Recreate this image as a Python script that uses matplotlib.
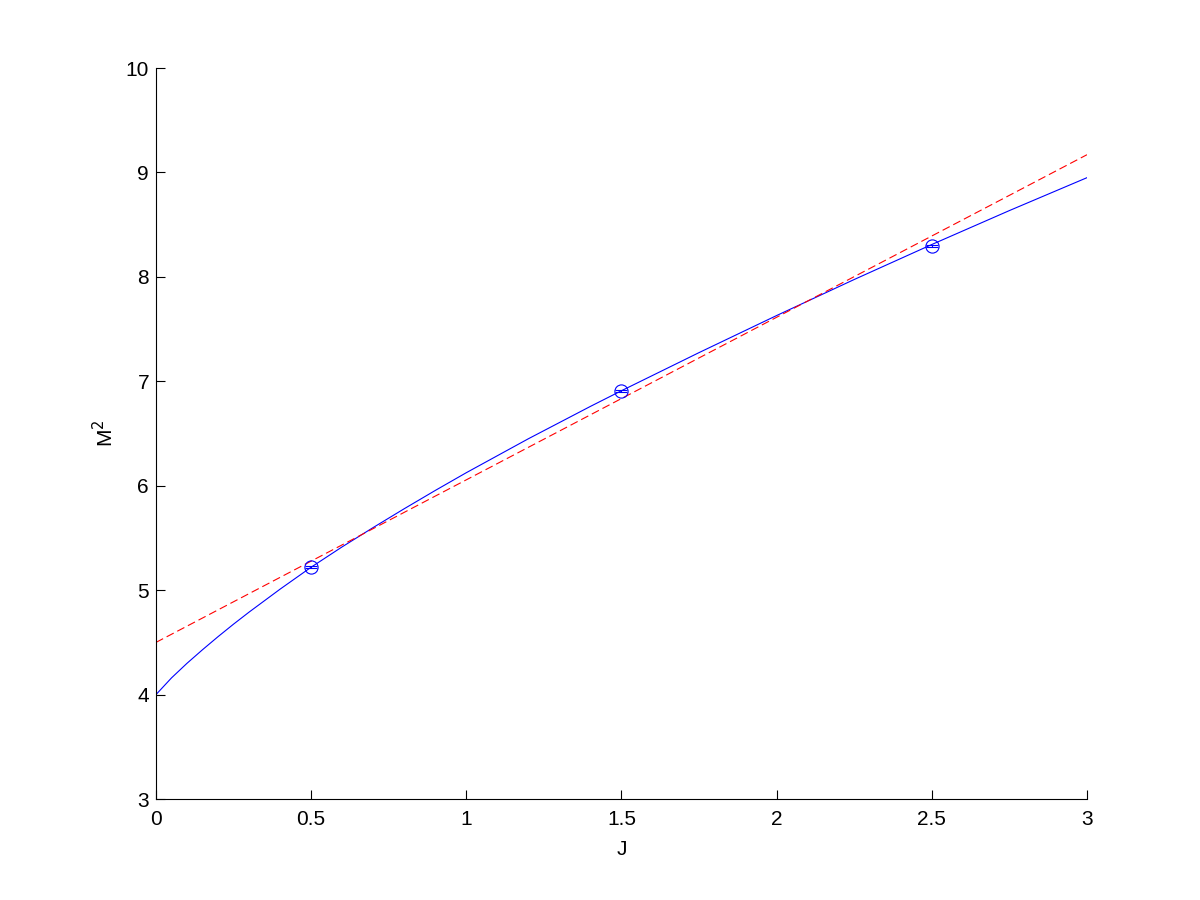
import numpy as np
import matplotlib.pyplot as plt

# blue curve
J_curve = [0.0, 0.05, 0.1, 0.15, 0.2, 0.25, 0.3, 0.35, 0.4, 0.5, 0.6, 0.7, 0.8, 0.9, 1.0,
           1.2, 1.4, 1.5, 1.75, 2.0, 2.25, 2.5, 2.75, 3.0]
M2_curve = [4.00, 4.16, 4.30, 4.43, 4.555, 4.675, 4.79, 4.90, 5.01, 5.22, 5.415, 5.60, 5.78, 5.955, 6.125,
            6.45, 6.76, 6.91, 7.275, 7.63, 7.975, 8.31, 8.635, 8.95]

# red dashed fit
J_fit = [0.0, 3.0]
M2_fit = [4.50, 9.17]

# measured points
J_pts = [0.5, 1.5, 2.5]
M2_pts = [5.22, 6.91, 8.30]
M2_err = [0.01, 0.01, 0.01]

plt.rcParams['font.family'] = ['Liberation Sans', 'DejaVu Sans']

fig = plt.figure(figsize=(12, 9), dpi=100)
ax = fig.add_axes([0.13, 0.1122, 0.7758, 0.8122])

ax.plot(J_curve, M2_curve, color='blue', lw=0.8)
ax.plot(J_fit, M2_fit, color='red', lw=0.8, dashes=(7.2, 3.6))
ax.errorbar(J_pts, M2_pts, yerr=M2_err, fmt='o', mfc='none', mec='blue', ecolor='blue',
            ms=9.5, mew=0.8, elinewidth=0.8, capsize=4.5, capthick=0.8)

ax.set_xlim(0, 3)
ax.set_ylim(3, 10)
ax.set_xticks([0, 0.5, 1, 1.5, 2, 2.5, 3])
ax.set_xticklabels(['0', '0.5', '1', '1.5', '2', '2.5', '3'])
ax.set_yticks(range(3, 11))
ax.tick_params(direction='in', length=6.7, width=0.8, labelsize=15)
ax.tick_params(axis='x', pad=8)
ax.tick_params(axis='y', pad=5)
ax.spines['top'].set_visible(False)
ax.spines['right'].set_visible(False)
for s in ['left', 'bottom']:
    ax.spines[s].set_linewidth(0.8)

ax.set_xlabel('J', fontsize=15, labelpad=8)
ax.set_ylabel('M$^2$', fontsize=15, labelpad=6)

fig.savefig('out.png', dpi=100)
